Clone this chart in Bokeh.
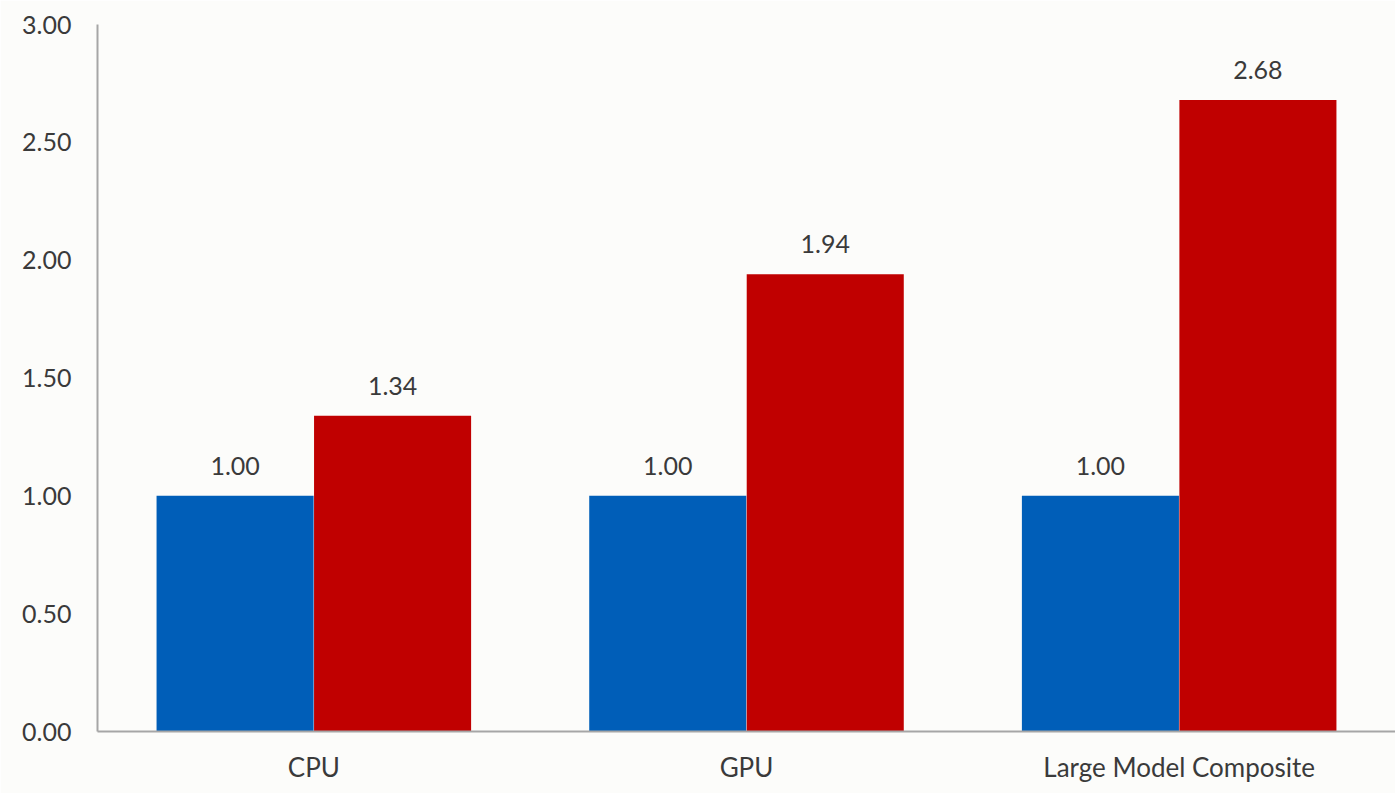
from bokeh.plotting import figure
from bokeh.models import ColumnDataSource, FactorRange, FixedTicker, NumeralTickFormatter, LabelSet
from bokeh.core.properties import value
from bokeh.transform import dodge
from bokeh.embed import file_html
from bokeh.resources import INLINE

categories = ["CPU", "GPU", "Large Model Composite"]
baseline = [1.00, 1.00, 1.00]
improved = [1.34, 1.94, 2.68]
y_ticks = [0.0, 0.5, 1.0, 1.5, 2.0, 2.5, 3.0]

FONT = "Lato"
BG = "#fcfcfa"
TEXT = "#3a3a3a"

source = ColumnDataSource(dict(
    cat=categories,
    base=baseline,
    imp=improved,
    base_lbl=[f"{v:.2f}" for v in baseline],
    imp_lbl=[f"{v:.2f}" for v in improved],
))

p = figure(
    x_range=FactorRange(*categories, range_padding=0),
    y_range=(0, 3),
    width=1395, height=793,
    output_backend="svg", toolbar_location=None,
    min_border_left=97, min_border_right=0, min_border_top=24, min_border_bottom=62,
    background_fill_color=BG, border_fill_color=BG,
)
p.outline_line_color = None
p.grid.grid_line_color = None

bar_w = 0.363
off = 0.182
p.vbar(x=dodge("cat", -off, range=p.x_range), top="base", width=bar_w, bottom=0,
       source=source, fill_color="#005eb8", line_color=None)
p.vbar(x=dodge("cat", off, range=p.x_range), top="imp", width=bar_w, bottom=0,
       source=source, fill_color="#c00000", line_color=None)

# value labels above each bar
for xoff, col, lbl in [(-off, "base", "base_lbl"), (off, "imp", "imp_lbl")]:
    labels = LabelSet(x=dodge("cat", xoff, range=p.x_range), y=col, text=lbl, source=source,
                      text_align="center", text_baseline="alphabetic", y_offset=21,
                      text_font=value(FONT), text_font_size="25px", text_color=TEXT)
    p.add_layout(labels)

p.yaxis.ticker = FixedTicker(ticks=y_ticks)
p.yaxis.formatter = NumeralTickFormatter(format="0.00")
for ax in (p.xaxis, p.yaxis):
    ax.axis_line_color = "#a6a6a6"
    ax.axis_line_width = 2
    ax.major_tick_line_color = None
    ax.minor_tick_line_color = None
    ax.major_label_text_font = FONT
    ax.major_label_text_color = TEXT
p.yaxis.major_label_text_font_size = "25px"
p.xaxis.major_label_text_font_size = "26px"
p.yaxis.major_label_standoff = 20
p.xaxis.major_label_standoff = 13

open("out.html", "w").write(file_html(p, INLINE))
